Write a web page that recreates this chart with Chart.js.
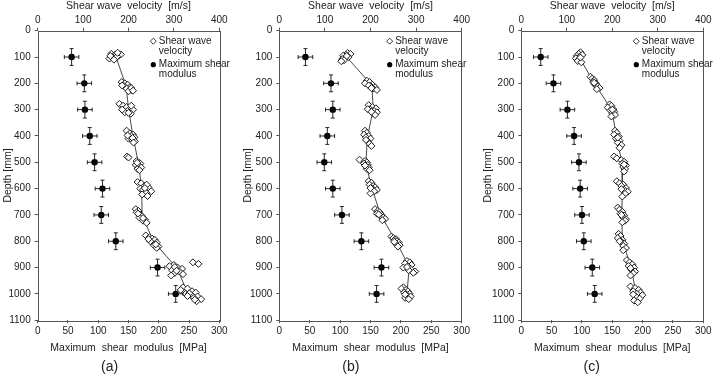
<!DOCTYPE html>
<html>
<head>
<meta charset="utf-8">
<script src="https://cdn.jsdelivr.net/npm/chart.js@4.4.0/dist/chart.umd.min.js"></script>
<style>
  html, body { margin: 0; padding: 0; background: #fff; }
  body { width: 721px; height: 379px; position: relative; overflow: hidden; }
  canvas { position: absolute; top: 0; }
</style>
</head>
<body>
<canvas id="chartA" width="240" height="379" style="left:0"></canvas>
<canvas id="chartB" width="240" height="379" style="left:240px"></canvas>
<canvas id="chartC" width="241" height="379" style="left:480px"></canvas>
<script>
// depth levels of the Gmax points (mm)
const depthLevels = [100, 200, 300, 400, 500, 600, 700, 800, 900, 1000];

// maximum shear modulus (MPa) per panel
const gmaxA = [56, 77, 78, 86, 94, 107, 105, 129, 198, 228];
const gmaxB = [43, 85, 88, 79, 74, 88, 103, 135, 168, 160];
const gmaxC = [32, 53, 76, 87, 95, 97, 100, 103, 117, 121];
const gmaxErr = 12;   // +/- MPa
const depthErr = 32;  // +/- mm

// shear wave velocity readings [depth mm, velocity m/s]
const vsA = [
  [88,162],[92,170],[95,178],[100,165],[103,172],[106,158],[90,183],[98,175],[110,168],[84,176],[96,160],
  [195,185],[200,192],[205,198],[210,190],[215,203],[220,196],[225,207],[230,200],[208,186],[218,206],[228,210],
  [278,180],[285,188],[290,196],[295,204],[300,210],[305,198],[310,192],[315,205],[285,206],[300,186],[312,200],
  [380,196],[390,203],[395,210],[400,206],[405,213],[410,200],[415,208],[420,214],[398,198],[408,209],[425,211],
  [478,197],[482,200],[495,218],[500,222],[505,226],[510,216],[515,224],[520,228],[525,220],[502,219],[530,224],
  [575,220],[580,228],[590,235],[595,244],[600,226],[605,232],[610,250],[615,238],[622,230],[585,240],[598,236],[628,242],
  [678,216],[685,222],[690,218],[700,226],[705,230],[710,224],[718,236],[722,232],[730,240],[695,221],[712,232],
  [778,238],[785,246],[790,252],[795,258],[800,248],[805,262],[815,256],[820,266],[825,262],[792,244],[812,260],
  [880,342],[886,354],[890,300],[895,290],[900,308],[905,318],[910,296],[915,312],[920,302],[925,320],[930,294],[898,302],[912,306],
  [975,320],[980,330],[985,315],[990,340],[995,348],[1000,326],[1005,338],[1010,352],[1015,344],[1020,360],[1028,350],[998,334],[1008,330],[1022,346]
];
const vsB = [
  [85,150],[88,156],[92,146],[95,140],[100,152],[104,144],[108,138],[112,142],[116,136],[96,148],
  [190,192],[195,198],[200,188],[205,204],[210,200],[215,210],[220,206],[225,214],[208,196],[218,202],
  [283,196],[290,204],[295,212],[300,200],[305,208],[310,214],[315,206],[320,210],[298,194],[308,202],
  [380,188],[388,192],[395,186],[400,196],[405,190],[410,200],[420,194],[430,198],[438,202],[415,190],
  [490,176],[495,188],[500,192],[505,186],[510,194],[515,190],[520,196],[525,192],[530,198],[512,188],
  [572,196],[578,202],[585,198],[590,206],[595,210],[600,204],[605,214],[610,208],[618,200],[598,200],
  [678,210],[685,216],[690,220],[695,214],[700,224],[705,222],[710,228],[715,232],[720,226],[698,218],
  [782,246],[788,250],[792,256],[796,252],[800,258],[805,262],[810,256],[815,264],[820,260],[802,252],
  [875,280],[880,286],[885,276],[890,290],[895,282],[900,272],[905,288],[910,284],[915,298],[920,294],[898,280],
  [975,272],[980,268],[985,278],[990,282],[995,274],[1000,286],[1005,280],[1010,288],[1015,276],[1020,284],[1002,276]
];
const vsC = [
  [82,130],[88,126],[92,134],[96,122],[100,128],[105,120],[110,126],[115,124],[120,132],[102,130],
  [175,152],[182,156],[188,160],[195,158],[200,164],[205,162],[212,168],[218,172],[222,166],[198,160],
  [280,194],[285,198],[292,190],[298,202],[303,196],[308,204],[314,200],[320,206],[326,198],[300,200],
  [380,206],[388,210],[395,204],[402,214],[410,208],[418,216],[425,212],[435,220],[445,216],[406,212],
  [478,204],[485,210],[492,220],[498,226],[505,222],[512,230],[518,224],[525,228],[535,226],[508,226],
  [572,210],[580,216],[585,224],[590,220],[598,230],[605,226],[612,234],[620,228],[630,222],[602,220],
  [672,212],[680,216],[688,222],[695,218],[702,226],[710,224],[716,230],[722,228],[728,222],[700,220],
  [772,214],[780,218],[788,212],[795,222],[802,220],[810,226],[818,224],[826,230],[834,224],[800,216],
  [872,232],[880,238],[888,244],[894,236],[900,248],[908,242],[915,250],[922,246],[930,240],[902,240],
  [972,240],[978,250],[985,258],[990,246],[995,262],[1000,254],[1005,266],[1010,252],[1018,260],[1025,248],[1032,256],[1002,246]
];

// line through the mean of each group [depth mm, velocity m/s]
const fitA = [[97,172],[212,195],[298,200],[402,210],[505,222],[598,229],[705,230],[803,256],[903,307],[1003,332]];
const fitB = [[97,146],[207,203],[300,206],[405,193],[508,190],[597,203],[700,222],[800,256],[898,285],[998,280]];
const fitC = [[100,127],[198,160],[302,199],[410,210],[507,222],[600,222],[700,221],[800,222],[900,242],[1002,252]];

const legendLines = [['Shear wave', 'velocity'], ['Maximum shear', 'modulus']];

const FONT = '"Liberation Sans Narrow", "Arial Narrow", "Liberation Sans", Arial, sans-serif';
Chart.defaults.font.family = FONT;
Chart.defaults.font.size = 10;
Chart.defaults.color = '#222';

const frame = {
  id: 'frame',
  beforeDatasetsDraw(chart) {
    const a = chart.chartArea, ctx = chart.ctx;
    ctx.save();
    ctx.strokeStyle = '#555';
    ctx.lineWidth = 1;
    ctx.strokeRect(Math.round(a.left) + 0.5, Math.round(a.top) + 0.5,
      Math.round(a.right - a.left), Math.round(a.bottom - a.top));
    ctx.restore();
  }
};

const errorBars = {
  id: 'errorBars',
  afterDatasetsDraw(chart) {
    const ctx = chart.ctx, xs = chart.scales.x, ys = chart.scales.y;
    chart.data.datasets.forEach(ds => {
      if (!ds.errX) return;
      ctx.save();
      ctx.strokeStyle = '#111';
      ctx.lineWidth = 0.9;
      ds.data.forEach(p => {
        const cx = xs.getPixelForValue(p.x), cy = ys.getPixelForValue(p.y);
        const x0 = xs.getPixelForValue(p.x - ds.errX), x1 = xs.getPixelForValue(p.x + ds.errX);
        const y0 = ys.getPixelForValue(p.y - ds.errY), y1 = ys.getPixelForValue(p.y + ds.errY);
        ctx.beginPath();
        ctx.moveTo(x0, cy); ctx.lineTo(x1, cy);
        ctx.moveTo(x0, cy - 2); ctx.lineTo(x0, cy + 2);
        ctx.moveTo(x1, cy - 2); ctx.lineTo(x1, cy + 2);
        ctx.moveTo(cx, y0); ctx.lineTo(cx, y1);
        ctx.moveTo(cx - 2, y0); ctx.lineTo(cx + 2, y0);
        ctx.moveTo(cx - 2, y1); ctx.lineTo(cx + 2, y1);
        ctx.stroke();
      });
      ctx.restore();
    });
  }
};

const innerLegend = {
  id: 'innerLegend',
  afterDraw(chart, args, opts) {
    const ctx = chart.ctx, a = chart.chartArea;
    const x = a.right - opts.fromRight;
    const rows = [a.top + 10.5, a.top + 34];
    ctx.save();
    // diamond
    ctx.beginPath();
    ctx.moveTo(x, rows[0] - 3); ctx.lineTo(x + 3, rows[0]);
    ctx.lineTo(x, rows[0] + 3); ctx.lineTo(x - 3, rows[0]); ctx.closePath();
    ctx.fillStyle = '#fff'; ctx.fill();
    ctx.strokeStyle = '#222'; ctx.lineWidth = 0.9; ctx.stroke();
    // filled circle
    ctx.beginPath();
    ctx.arc(x, rows[1], 2.6, 0, Math.PI * 2);
    ctx.fillStyle = '#000'; ctx.fill();
    ctx.fillStyle = '#222';
    ctx.font = '10px ' + FONT;
    ctx.textBaseline = 'middle';
    legendLines.forEach((lines, i) => {
      lines.forEach((t, j) => ctx.fillText(t, x + 5.5, rows[i] + j * 10));
    });
    ctx.restore();
  }
};

function makePanel(id, caption, gmax, vs, fit, yWidth, padRight, legendFromRight) {
  new Chart(document.getElementById(id), {
    type: 'scatter',
    data: {
      datasets: [
        {
          label: 'Maximum shear modulus',
          data: depthLevels.map((d, i) => ({ x: gmax[i], y: d })),
          xAxisID: 'x', yAxisID: 'y',
          errX: gmaxErr, errY: depthErr,
          pointStyle: 'circle', pointRadius: 3.2,
          backgroundColor: '#000', borderColor: '#000', borderWidth: 0
        },
        {
          label: 'Shear wave velocity',
          data: vs.map(p => ({ x: p[1], y: p[0] })),
          xAxisID: 'x2', yAxisID: 'y',
          pointStyle: 'rectRot', pointRadius: 3.5,
          backgroundColor: '#fff', borderColor: '#1a1a1a', borderWidth: 1
        },
        {
          label: 'fit',
          data: fit.map(p => ({ x: p[1], y: p[0] })),
          xAxisID: 'x2', yAxisID: 'y',
          showLine: true, pointRadius: 0,
          borderColor: '#333', borderWidth: 0.9
        }
      ]
    },
    options: {
      responsive: false,
      animation: false,
      events: [],
      layout: { padding: { left: 0, right: padRight, top: 0, bottom: 0 } },
      plugins: {
        legend: { display: false },
        tooltip: { enabled: false },
        title: {
          display: true,
          position: 'bottom',
          text: caption,
          color: '#222',
          font: { size: 14, weight: 'normal' },
          padding: { top: 5, bottom: 3 }
        },
        innerLegend: { fromRight: legendFromRight }
      },
      scales: {
        x: {
          type: 'linear', position: 'bottom', min: 0, max: 300,
          ticks: { stepSize: 50, padding: 2, callback: v => String(v) },
          grid: { drawOnChartArea: false, tickLength: 3, color: '#555' },
          border: { display: false },
          title: { display: true, text: 'Maximum  shear  modulus  [MPa]', font: { size: 10.5 }, padding: { top: 0, bottom: 0 } },
          afterFit: s => { s.height = 34; }
        },
        x2: {
          type: 'linear', position: 'top', min: 0, max: 400,
          ticks: { stepSize: 100, padding: 1, callback: v => String(v) },
          grid: { drawOnChartArea: false, tickLength: 3, color: '#555' },
          border: { display: false },
          title: { display: true, text: 'Shear wave  velocity  [m/s]', font: { size: 10.5 }, padding: { top: 0, bottom: 0 } },
          afterFit: s => { s.height = 30.7; }
        },
        y: {
          type: 'linear', position: 'left', reverse: true, min: 0, max: 1100,
          ticks: { stepSize: 100, padding: 4, callback: v => String(v) },
          grid: { drawOnChartArea: false, tickLength: 3, color: '#555' },
          border: { display: false },
          title: { display: true, text: 'Depth [mm]', font: { size: 10.5 }, padding: { top: 2, bottom: 0 } },
          afterFit: s => { s.width = yWidth; }
        }
      }
    },
    plugins: [frame, errorBars, innerLegend]
  });
}

makePanel('chartA', '(a)', gmaxA, vsA, fitA, 37.7, 20.7, 66);
makePanel('chartB', '(b)', gmaxB, vsB, fitB, 39.3, 18.3, 72);
makePanel('chartC', '(c)', gmaxC, vsC, fitC, 41.3, 17.7, 67);
</script>
</body>
</html>
